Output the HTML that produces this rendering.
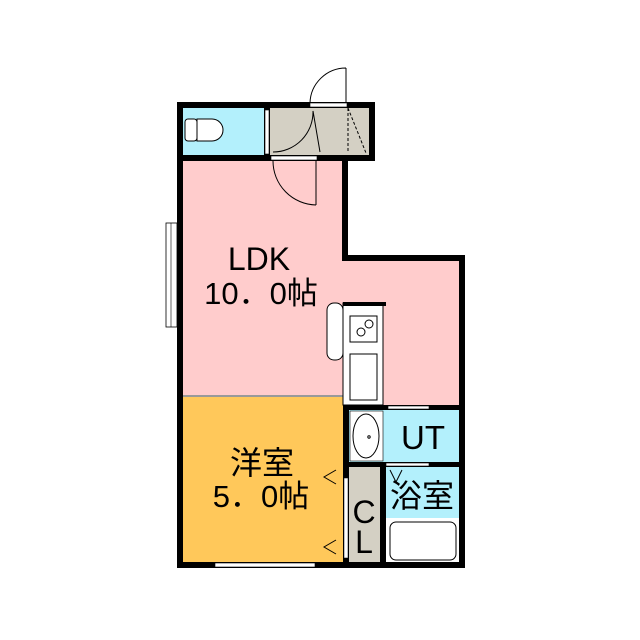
<!DOCTYPE html>
<html><head><meta charset="utf-8"><style>
html,body{margin:0;padding:0;background:#fff;}
svg{display:block}
text{font-family:"Liberation Sans","Noto Sans CJK JP",sans-serif;fill:#000}
</style></head><body>
<svg width="640" height="640" viewBox="0 0 640 640">
<rect width="640" height="640" fill="#fff"/>
<rect x="183" y="108" width="84" height="48" fill="#b3f0fc"/>
<rect x="270" y="108" width="99" height="48" fill="#d4d0c4"/>
<rect x="183" y="161" width="160" height="235" fill="#ffcccc"/>
<rect x="343" y="261" width="116" height="146" fill="#ffcccc"/>
<rect x="183" y="397" width="160" height="165" fill="#ffc85a"/>
<rect x="349" y="410" width="110" height="52" fill="#b3f0fc"/>
<rect x="386" y="467" width="73" height="95" fill="#b3f0fc"/>
<rect x="349" y="467" width="31" height="95" fill="#d4d0c4"/>
<g fill="#000">
<rect x="177" y="102" width="198" height="6"/>
<rect x="177" y="155" width="198" height="6"/>
<rect x="177" y="102" width="6" height="466"/>
<rect x="369" y="102" width="6" height="59"/>
<rect x="342" y="155" width="6" height="106"/>
<rect x="342" y="255" width="123" height="6"/>
<rect x="459" y="255" width="6" height="313"/>
<rect x="177" y="562" width="288" height="6"/>
<rect x="343" y="405" width="122" height="5"/>
<rect x="343" y="462" width="122" height="5"/>
<rect x="343" y="405" width="6" height="163"/>
<rect x="380" y="467" width="6" height="95"/>
<rect x="264" y="108" width="6" height="48"/>
</g>
<rect x="265" y="110" width="4" height="44" fill="#fff" stroke="#000" stroke-width="0.6"/>
<rect x="310" y="103" width="37" height="4" fill="#fff" stroke="#000" stroke-width="0.6"/>
<rect x="271" y="156" width="46" height="4" fill="#fff" stroke="#000" stroke-width="0.6"/>
<rect x="166" y="223" width="11" height="104" fill="#fff" stroke="#000" stroke-width="0.8"/>
<line x1="171" y1="223" x2="171" y2="327" stroke="#000" stroke-width="0.6"/>
<rect x="215" y="563" width="100" height="4" fill="#fff" stroke="#000" stroke-width="0.6"/>
<rect x="388" y="406" width="41" height="3" fill="#fff" stroke="#000" stroke-width="0.6"/>
<rect x="386" y="463" width="43" height="3" fill="#fff" stroke="#000" stroke-width="0.6"/>
<rect x="343" y="395" width="6" height="2" fill="#fff"/>
<line x1="183" y1="396" x2="343" y2="396" stroke="#999" stroke-width="2"/>
<rect x="344" y="478" width="4" height="80" fill="#fff" stroke="#000" stroke-width="0.5"/>
<g fill="none" stroke="#000" stroke-width="1">
<path d="M346 68 L346 103 M346 68 A36 36 0 0 0 310 103"/>
<path d="M273 152 A40 40 0 0 0 313 111 L320 152"/>
<path d="M316 161 L316 205 M316 205 A44 44 0 0 1 273 161"/>
<path d="M348 108 L348 153 M348 108 L366 153" stroke-dasharray="3,2"/>
<polyline points="336,470 324,477 336,484"/>
<polyline points="336,540 324,547 336,554"/>
<polyline points="390,470 396,482 402,470"/>
</g>
<rect x="185" y="119" width="12" height="22" rx="3" fill="#fff" stroke="#000"/>
<path d="M197 119 L212 119 A11 11 0 0 1 212 141 L197 141 Z" fill="#fff" stroke="#000"/>
<rect x="327" y="303" width="16" height="57" rx="7" fill="#fff" stroke="#000"/>
<rect x="343" y="303" width="40" height="102" fill="#fff" stroke="#000"/>
<rect x="343" y="302" width="43" height="4" fill="#000"/>
<rect x="350" y="316" width="27" height="26" fill="#fff" stroke="#000"/>
<circle cx="361" cy="332" r="4" fill="none" stroke="#000"/>
<circle cx="369" cy="324" r="4" fill="none" stroke="#000"/>
<rect x="350" y="354" width="27" height="46" fill="#fff" stroke="#000"/>
<rect x="350" y="411" width="33" height="50" fill="#fff" stroke="#000" stroke-width="0.6"/>
<ellipse cx="366" cy="436" rx="13" ry="22" fill="#fff" stroke="#000"/>
<circle cx="369" cy="437" r="1.2" fill="none" stroke="#000"/>
<rect x="386" y="518" width="73" height="44" fill="#fff"/>
<rect x="390" y="522" width="66" height="38" rx="6" fill="#fff" stroke="#000"/>
<text x="259" y="270" font-size="32" text-anchor="middle">LDK</text>
<text x="261" y="304" font-size="31" text-anchor="middle">10．0帖</text>
<text x="262" y="474" font-size="32" text-anchor="middle">洋室</text>
<text x="261" y="507" font-size="31" text-anchor="middle">5．0帖</text>
<text x="423" y="449" font-size="33" text-anchor="middle">UT</text>
<text x="422" y="507" font-size="32" text-anchor="middle">浴室</text>
<text x="364" y="523" font-size="32" text-anchor="middle">C</text>
<text x="364" y="553" font-size="32" text-anchor="middle">L</text>
</svg>
</body></html>
